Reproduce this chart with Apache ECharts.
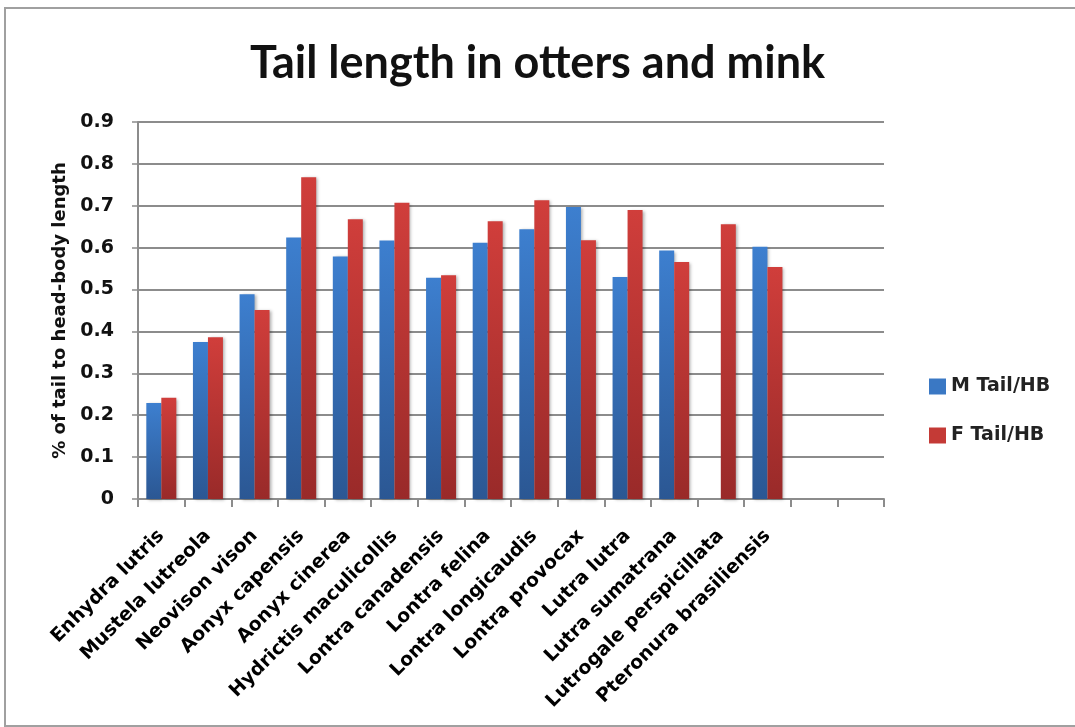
<!DOCTYPE html>
<html>
<head>
<meta charset="utf-8">
<script src="https://cdn.jsdelivr.net/npm/echarts@6/dist/echarts.min.js"></script>
<style>
html,body{margin:0;padding:0;background:#fff;}
#chart{width:1075px;height:727px;}
</style>
</head>
<body>
<div id="chart"></div>
<script>
const categories = ["Enhydra lutris","Mustela lutreola","Neovison vison","Aonyx capensis","Aonyx cinerea","Hydrictis maculicollis","Lontra canadensis","Lontra felina","Lontra longicaudis","Lontra provocax","Lutra lutra","Lutra sumatrana","Lutrogale perspicillata","Pteronura brasiliensis","",""];
const mTail = [0.229,0.375,0.489,0.624,0.579,0.617,0.528,0.612,0.644,0.697,0.530,0.593,null,0.602,null,null];
const fTail = [0.242,0.386,0.451,0.768,0.668,0.707,0.534,0.663,0.713,0.618,0.690,0.566,0.656,0.554,null,null];
const yTicks = {min:0,max:0.9,interval:0.1};

const chart = echarts.init(document.getElementById('chart'));
const titleFont = 'Lato, "Open Sans", sans-serif';
const font = '"DejaVu Sans", sans-serif';
function grad(top,bottom){
  return new echarts.graphic.LinearGradient(0,0,0,1,[{offset:0,color:top},{offset:1,color:bottom}]);
}
chart.setOption({
  animation:false,
  backgroundColor:'#fff',
  title:{
    text:'Tail length in otters and mink',
    left:'center', top:36,
    textStyle:{fontFamily:titleFont,fontWeight:'bold',fontSize:45,color:'#111'}
  },
  graphic:[{
    type:'rect',
    shape:{x:5,y:8,width:1080,height:718},
    style:{fill:'none',stroke:'#a0a0a0',lineWidth:2},
    silent:true
  }],
  legend:{
    orient:'vertical',
    left:924, top:372,
    itemWidth:17, itemHeight:16, itemGap:30,
    icon:'rect',
    textStyle:{fontFamily:font,fontWeight:'bold',fontSize:19,color:'#222'},
    data:[
      {name:'M Tail/HB',itemStyle:{color:'#3a78c4'}},
      {name:'F Tail/HB',itemStyle:{color:'#c43a36'}}
    ]
  },
  grid:{left:138,right:191,top:122,bottom:228,containLabel:false},
  xAxis:{
    type:'category',
    data:categories,
    axisLine:{lineStyle:{color:'#8c8c8c',width:2}},
    axisTick:{show:true,length:8,lineStyle:{color:'#8c8c8c',width:2}},
    axisLabel:{rotate:45,interval:0,margin:34,fontFamily:font,fontWeight:'bold',fontSize:19,color:'#000'}
  },
  yAxis:{
    type:'value',
    min:yTicks.min,max:yTicks.max,interval:yTicks.interval,
    name:'% of tail to head-body length',
    nameLocation:'middle',
    nameGap:66,
    nameTextStyle:{fontFamily:font,fontWeight:'bold',fontSize:18,color:'#111'},
    axisLine:{show:true,lineStyle:{color:'#8c8c8c',width:2}},
    axisTick:{show:true,length:6,lineStyle:{color:'#8c8c8c',width:1.5}},
    axisLabel:{margin:24,fontFamily:font,fontWeight:'bold',fontSize:19,color:'#111',
      formatter:v=>(Math.round(v*10)/10).toString()},
    splitLine:{lineStyle:{color:'#8c8c8c',width:2}}
  },
  series:[
    {name:'M Tail/HB',type:'bar',data:mTail,barWidth:15,barGap:'0%',
     itemStyle:{color:grad('#3d7fcf','#2b5793'),shadowBlur:3,shadowColor:'rgba(0,0,0,0.3)',shadowOffsetX:2,shadowOffsetY:1}},
    {name:'F Tail/HB',type:'bar',data:fTail,barWidth:15,barGap:'0%',
     itemStyle:{color:grad('#d03e3b','#992a29'),shadowBlur:3,shadowColor:'rgba(0,0,0,0.3)',shadowOffsetX:2,shadowOffsetY:1}}
  ]
});
</script>
</body>
</html>
